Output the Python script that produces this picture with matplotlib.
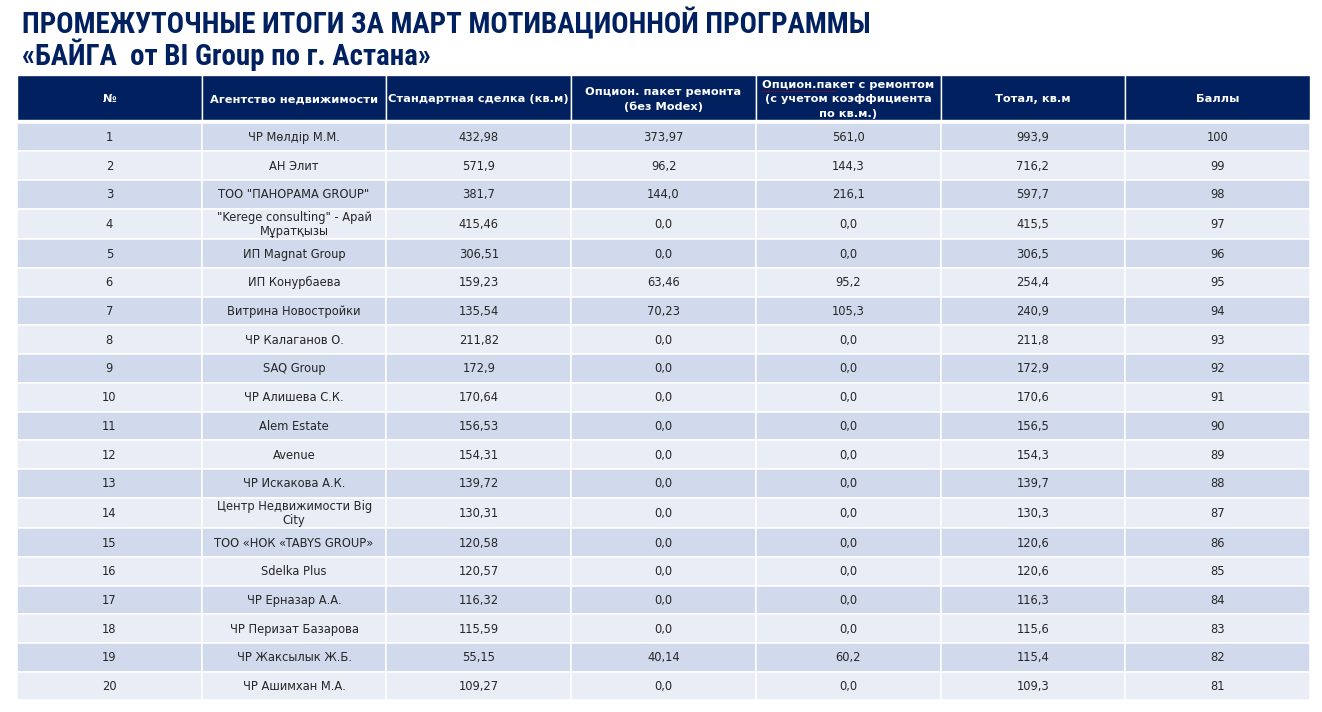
import matplotlib
matplotlib.use("Agg")
import matplotlib.pyplot as plt
from matplotlib import font_manager
from matplotlib.patches import Rectangle

TITLE = ["ПРОМЕЖУТОЧНЫЕ ИТОГИ ЗА МАРТ МОТИВАЦИОННОЙ ПРОГРАММЫ",
         "«БАЙГА  от BI Group по г. Астана»"]

HEADERS = ["№", "Агентство недвижимости", "Стандартная сделка (кв.м)",
           "Опцион. пакет ремонта\n(без Modex)",
           "Опцион.пакет с ремонтом\n(с учетом коэффициента\nпо кв.м.)",
           "Тотал, кв.м", "Баллы"]

ranks = [str(i) for i in range(1, 21)]
agencies = ["ЧР Мөлдір М.М.", "АН Элит", 'ТОО "ПАНОРАМА GROUP"',
            '"Kerege consulting" - Арай\nМұратқызы', "ИП Magnat Group",
            "ИП Конурбаева", "Витрина Новостройки", "ЧР Калаганов О.",
            "SAQ Group", "ЧР Алишева С.К.", "Alem Estate", "Avenue",
            "ЧР Искакова А.К.", "Центр Недвижимости Big\nCity",
            "ТОО «НОК «TABYS GROUP»", "Sdelka Plus", "ЧР Ерназар А.А.",
            "ЧР Перизат Базарова", "ЧР Жаксылык Ж.Б.", "ЧР Ашимхан М.А."]
standard = ["432,98", "571,9", "381,7", "415,46", "306,51", "159,23", "135,54",
            "211,82", "172,9", "170,64", "156,53", "154,31", "139,72", "130,31",
            "120,58", "120,57", "116,32", "115,59", "55,15", "109,27"]
option_raw = ["373,97", "96,2", "144,0", "0,0", "0,0", "63,46", "70,23", "0,0",
              "0,0", "0,0", "0,0", "0,0", "0,0", "0,0", "0,0", "0,0", "0,0",
              "0,0", "40,14", "0,0"]
option_coef = ["561,0", "144,3", "216,1", "0,0", "0,0", "95,2", "105,3", "0,0",
               "0,0", "0,0", "0,0", "0,0", "0,0", "0,0", "0,0", "0,0", "0,0",
               "0,0", "60,2", "0,0"]
total = ["993,9", "716,2", "597,7", "415,5", "306,5", "254,4", "240,9", "211,8",
         "172,9", "170,6", "156,5", "154,3", "139,7", "130,3", "120,6", "120,6",
         "116,3", "115,6", "115,4", "109,3"]
points = ["100", "99", "98", "97", "96", "95", "94", "93", "92", "91", "90",
          "89", "88", "87", "86", "85", "84", "83", "82", "81"]

columns = [ranks, agencies, standard, option_raw, option_coef, total, points]

NAVY = "#002060"
ROW_DARK = "#D0DAEC"
ROW_LIGHT = "#E9EDF6"
TEXT = "#262626"
BODY_FONT = "DejaVu Sans"


def pick_title_font():
    # narrow bold face if one is around, else plain sans
    names = {f.name for f in font_manager.fontManager.ttflist}
    for cand in ["Roboto Condensed", "Liberation Sans Narrow",
                 "Open Sans Condensed", "DejaVu Sans Condensed"]:
        if cand in names:
            return cand
    return "Liberation Sans"


W, H = 1322, 712
fig = plt.figure(figsize=(W / 100, H / 100), dpi=100)
ax = fig.add_axes([0, 0, 1, 1])
ax.set_xlim(0, W)
ax.set_ylim(H, 0)
ax.axis("off")

# title: fit first line to the reference width (~851 px)
tfam = pick_title_font()
t1 = ax.text(22, 23, TITLE[0], fontsize=20, fontweight="bold", color=NAVY,
             va="center", ha="left", family=tfam)
t2 = ax.text(22, 55, TITLE[1], fontsize=20, fontweight="bold", color=NAVY,
             va="center", ha="left", family=tfam)
fig.canvas.draw()
w = t1.get_window_extent(fig.canvas.get_renderer()).width
fs = min(20.8, 20 * 851 / w)
t1.set_fontsize(fs)
t2.set_fontsize(fs)

# table geometry
x0, x1 = 17, 1310
col_w = (x1 - x0) / len(HEADERS)
head_top, head_bot = 75, 120
body_top, body_bot = 122.5, 700.5
weights = [1.07 if "\n" in a else 1.0 for a in agencies]
unit = (body_bot - body_top) / sum(weights)

# header
for j, h in enumerate(HEADERS):
    xl = x0 + j * col_w
    ax.add_patch(Rectangle((xl, head_top), col_w, head_bot - head_top,
                           facecolor=NAVY, edgecolor="white", lw=1.0))
    ax.text(xl + col_w / 2, (head_top + head_bot) / 2 + 2, h, color="white",
            fontsize=8.2, fontweight="bold", ha="center", va="center",
            linespacing=1.6, zorder=3, family=BODY_FONT)

# red spell-check mark under "Опцион.пакет"
ax.plot([761, 836], [90.5, 90.5], color="#C00000", lw=0.8, ls=(0, (1, 1)),
        zorder=4)

# body
y = body_top
for i in range(len(agencies)):
    rh = unit * weights[i]
    fc = ROW_DARK if i % 2 == 0 else ROW_LIGHT
    for j, col in enumerate(columns):
        xl = x0 + j * col_w
        ax.add_patch(Rectangle((xl, y), col_w, rh, facecolor=fc,
                               edgecolor="white", lw=1.1))
        ax.text(xl + col_w / 2, y + rh / 2 + 0.5, col[i], color=TEXT,
                fontsize=8.3, ha="center", va="center", linespacing=1.15,
                zorder=3, family=BODY_FONT)
    y += rh

fig.savefig("out.png", dpi=100)
